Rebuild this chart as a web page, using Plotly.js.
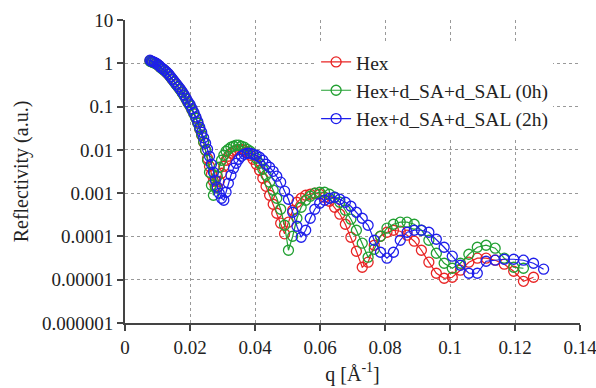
<!DOCTYPE html>
<html>
<head>
<meta charset="utf-8">
<script src="https://cdn.plot.ly/plotly-3.0.1.min.js"></script>
<style>html,body{margin:0;padding:0;background:#fff;}#chart{width:596px;height:388px;}</style>
</head>
<body>
<div id="chart"></div>
<script>
// q grid [1/Å]
const qValues = [0.0077,0.0081,0.0085,0.0090,0.0095,0.0100,0.0105,0.0110,0.0116,0.0122,
0.0128,0.0134,0.0140,0.0146,0.0152,0.0158,0.0164,0.0170,0.0176,0.0182,
0.0188,0.0194,0.0200,0.0206,0.0212,0.0218,0.0224,0.0230,0.0236,0.0242,
0.0248,0.0254,0.0260,0.0266,0.0272,0.0278,0.0284,0.0290,0.0297,0.0304,
0.0311,0.0318,0.0326,0.0334,0.0342,0.0350,0.0358,0.0367,0.0376,0.0385,
0.0394,0.0404,0.0414,0.0424,0.0434,0.0445,0.0456,0.0467,0.0479,0.0491,
0.0503,0.0516,0.0529,0.0542,0.0556,0.0570,0.0584,0.0599,0.0614,0.0629,
0.0645,0.0661,0.0678,0.0695,0.0712,0.0730,0.0748,0.0767,0.0786,0.0806,
0.0826,0.0847,0.0868,0.0890,0.0912,0.0935,0.0958,0.0982,0.1007,0.1032,
0.1058,0.1084,0.1111,0.1139,0.1167,0.1196,0.1226,0.1257,0.1288];

const rHex = [1.15,1.10,1.07,1.04,0.99,0.94,0.87,0.80,0.74,0.68,
0.615,0.552,0.484,0.423,0.37,0.323,0.284,0.248,0.211,0.18,
0.149,0.124,0.105,0.085,0.069,0.0545,0.042,0.0299,0.0217,0.0150,
0.00979,0.0064,0.00418,0.00273,0.00188,0.00144,0.00137,0.00188,0.00288,0.00418,
0.00575,0.00711,0.00835,0.00928,0.00979,0.0103,0.0103,0.00979,0.0088,0.0075,
0.00607,0.00465,0.00338,0.00221,0.00144,0.000894,0.000554,0.000343,0.000202,0.000115,
0.000213,0.000403,0.000616,0.000762,0.000894,0.000943,0.000995,0.000943,0.000804,0.00065,
0.000472,0.000326,0.000191,0.0000958,0.0000455,0.0000194,0.0000254,0.0000626,0.000101,0.000125,
0.000139,0.000132,0.000107,0.0000775,0.000048,0.0000254,0.0000141,0.0000108,0.0000114,0.0000166,
0.0000254,0.0000314,0.0000314,0.0000282,0.0000228,0.0000157,0.0000092,0.0000114];

const rHex0h = [1.12,1.08,1.05,1.02,0.98,0.93,0.86,0.79,0.73,0.675,
0.61,0.548,0.48,0.42,0.367,0.32,0.281,0.246,0.209,0.178,
0.148,0.123,0.104,0.084,0.068,0.0535,0.041,0.0307,0.0223,0.0154,
0.00979,0.00575,0.00304,0.00152,0.000894,0.00137,0.00246,0.00396,0.00575,0.0075,
0.00928,0.0103,0.0115,0.0121,0.0128,0.0128,0.0121,0.0115,0.0103,0.00928,
0.00791,0.0064,0.0049,0.00356,0.00259,0.00179,0.00117,0.000762,0.000425,0.000181,
0.000048,0.000101,0.000263,0.000472,0.000685,0.000848,0.000995,0.00105,0.00105,0.000943,
0.000804,0.000616,0.000403,0.00025,0.000139,0.0000697,0.0000331,0.0000506,0.000101,0.000155,
0.000191,0.000213,0.000213,0.000191,0.000139,0.0000817,0.0000409,0.000024,0.0000184,0.000024,
0.0000388,0.0000563,0.0000626,0.0000534,0.0000314,0.0000194,0.0000184];

const rHex2h = [1.18,1.12,1.09,1.06,1.01,0.955,0.885,0.815,0.755,0.695,
0.628,0.565,0.495,0.434,0.38,0.333,0.292,0.256,0.219,0.187,
0.156,0.130,0.111,0.090,0.073,0.0575,0.0445,0.0333,0.0255,0.019,
0.0142,0.0103,0.00711,0.00465,0.00304,0.00199,0.00137,0.000995,0.000762,0.000685,
0.00105,0.00169,0.00259,0.00376,0.0049,0.00607,0.00711,0.00791,0.00835,0.00835,
0.00791,0.0075,0.00675,0.00575,0.00465,0.00396,0.0032,0.00246,0.00179,0.00111,
0.000723,0.000362,0.000172,0.0000958,0.000139,0.000263,0.000425,0.000584,0.000685,0.000762,
0.000804,0.000723,0.000616,0.000498,0.000362,0.000263,0.000181,0.0000817,0.0000431,0.0000314,
0.0000431,0.0000817,0.000125,0.000139,0.000139,0.000125,0.0000861,0.0000563,0.0000349,0.0000216,
0.0000141,0.0000141,0.0000267,0.0000282,0.0000297,0.0000297,0.0000282,0.000024,0.0000175];

const seriesNames = ['Hex','Hex+d_SA+d_SAL (0h)','Hex+d_SA+d_SAL (2h)'];
const seriesColors = ['rgb(232,36,36)','rgb(34,160,50)','rgb(30,30,235)'];
const xTickVals = [0,0.02,0.04,0.06,0.08,0.1,0.12,0.14];
const xTickText = ['0','0.02','0.04','0.06','0.08','0.1','0.12','0.14'];
const yTickVals = [0.000001,0.00001,0.0001,0.001,0.01,0.1,1,10];
const yTickText = ['0.000001','0.00001','0.0001','0.001','0.01','0.1','1','10'];

const seriesData = [rHex, rHex0h, rHex2h];
const traces = seriesData.map((r, i) => ({
  x: qValues.slice(0, r.length),
  y: r,
  name: seriesNames[i],
  type: 'scatter',
  mode: 'lines+markers',
  line: {color: seriesColors[i], width: 1.2},
  marker: {symbol: 'circle-open', size: 10, color: seriesColors[i], line: {width: 1.3, color: seriesColors[i]}}
}));

const font = "'Liberation Serif', 'Times New Roman', Times, serif";
const layout = {
  width: 596, height: 388,
  margin: {l: 125, r: 16, t: 20, b: 65},
  paper_bgcolor: '#fff', plot_bgcolor: '#fff',
  font: {family: font, size: 19, color: '#222'},
  showlegend: true,
  legend: {x: 0.42, y: 0.925, xanchor: 'left', yanchor: 'top', bgcolor: '#fff', borderwidth: 0,
           font: {family: font, size: 19.5, color: '#222'}, tracegroupgap: 0},
  xaxis: {
    range: [0, 0.14], tickvals: xTickVals, ticktext: xTickText,
    ticklabeloverflow: 'allow',
    showline: true, linecolor: '#444', linewidth: 2,
    ticks: 'outside', ticklen: 6, tickwidth: 2, tickcolor: '#444',
    showgrid: true, gridcolor: '#999', gridwidth: 1, griddash: 'dot',
    zeroline: false, mirror: false,
    tickfont: {family: font, size: 19, color: '#222'},
    title: {text: 'q [Å<sup>-1</sup>]', font: {family: font, size: 20, color: '#222'}, standoff: 10}
  },
  yaxis: {
    type: 'log', range: [-6, 1],
    tickvals: yTickVals, ticktext: yTickText,
    ticklabeloverflow: 'allow',
    showline: true, linecolor: '#444', linewidth: 2,
    ticks: 'outside', ticklen: 6, tickwidth: 2, tickcolor: '#444',
    showgrid: true, gridcolor: '#999', gridwidth: 1, griddash: 'dot',
    zeroline: false,
    tickfont: {family: font, size: 19, color: '#222'},
    title: {text: 'Reflectivity (a.u.)', font: {family: font, size: 20, color: '#222'}, standoff: 8}
  }
};

Plotly.newPlot('chart', traces, layout, {displayModeBar: false, staticPlot: true});
</script>
</body>
</html>
